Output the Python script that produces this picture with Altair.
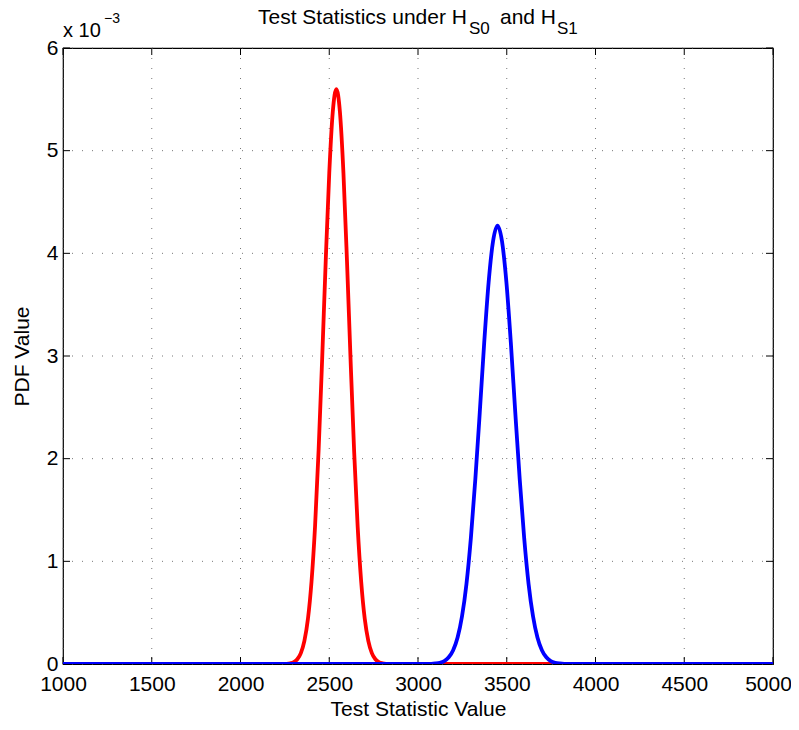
import altair as alt
import pandas as pd

# ---- data (y in units of 1e-3) ----
red_x = [1000, 2200, 2260, 2280, 2300, 2320, 2340, 2360, 2380, 2400, 2420, 2440, 2460, 2480,
         2500, 2520, 2540, 2560, 2580, 2600, 2620, 2640, 2660, 2680, 2700, 2720, 2740,
         2760, 2780, 2800, 2820, 2900, 5000]
red_y = [0.0, 0.0, 0.002, 0.007, 0.018, 0.046, 0.106, 0.225, 0.44, 0.80, 1.34, 2.08, 2.97, 3.92,
         4.78, 5.38, 5.60, 5.38, 4.78, 3.92, 2.97, 2.08, 1.34, 0.80, 0.44, 0.225, 0.106,
         0.046, 0.018, 0.007, 0.002, 0.0, 0.0]

blue_x = [1000, 3050, 3098, 3123, 3148, 3173, 3198, 3223, 3248, 3273, 3298, 3323, 3348, 3373,
          3398, 3423, 3448, 3473, 3498, 3523, 3548, 3573, 3598, 3623, 3648, 3673, 3698,
          3723, 3748, 3773, 3798, 3850, 5000]
blue_y = [0.0, 0.0, 0.005, 0.012, 0.029, 0.065, 0.134, 0.258, 0.465, 0.78, 1.23, 1.80, 2.45, 3.13,
          3.72, 4.12, 4.27, 4.12, 3.72, 3.13, 2.45, 1.80, 1.23, 0.78, 0.465, 0.258, 0.134,
          0.065, 0.029, 0.012, 0.005, 0.0, 0.0]

x_ticks = [1000, 1500, 2000, 2500, 3000, 3500, 4000, 4500, 5000]
y_ticks = [0, 1, 2, 3, 4, 5, 6]

W, H = 710, 616
FONT = "Liberation Sans"

red_df = pd.DataFrame({"x": red_x, "y": red_y})
blue_df = pd.DataFrame({"x": blue_x, "y": blue_y})
xt_df = pd.DataFrame({"x": x_ticks})
yt_df = pd.DataFrame({"y": y_ticks})

xs = alt.Scale(domain=[1000, 5000], nice=False, zero=False)
ys = alt.Scale(domain=[0, 6], nice=False)

x_axis = alt.Axis(values=x_ticks, format="d", title="Test Statistic Value", grid=False,
                  domain=False, ticks=False, labelPadding=9, titlePadding=4,
                  labelFontSize=21, titleFontSize=21, labelFont=FONT, titleFont=FONT,
                  labelColor="#000", titleColor="#000", titleFontWeight="normal",
                  labelFlush=False, labelOverlap=False,
                  labelOffset={"condition": {"test": "datum.value == 5000", "value": -5},
                               "value": 0})
y_axis = alt.Axis(values=y_ticks, format="d", title="PDF Value", grid=False, domain=False,
                  ticks=False, labelPadding=5, titlePadding=14,
                  labelFontSize=21, titleFontSize=21, labelFont=FONT, titleFont=FONT,
                  labelColor="#000", titleColor="#000", titleFontWeight="normal",
                  labelFlush=False, labelOverlap=False)

X = alt.X("x:Q", scale=xs, axis=x_axis)
Y = alt.Y("y:Q", scale=ys, axis=y_axis)

grid_style = dict(color="#777777", strokeDash=[1, 9], strokeWidth=1)

vgrid = alt.Chart(xt_df).mark_rule(**grid_style).encode(x=X)
hgrid = alt.Chart(yt_df).mark_rule(**grid_style).encode(y=Y)

tick_style = dict(color="#000", strokeWidth=1)
xt_bot = alt.Chart(xt_df).mark_rule(**tick_style).encode(
    x=X, y=alt.value(H), y2=alt.value(H - 7))
xt_top = alt.Chart(xt_df).mark_rule(**tick_style).encode(
    x=X, y=alt.value(0), y2=alt.value(7))
yt_left = alt.Chart(yt_df).mark_rule(**tick_style).encode(
    y=Y, x=alt.value(0), x2=alt.value(7))
yt_right = alt.Chart(yt_df).mark_rule(**tick_style).encode(
    y=Y, x=alt.value(W), x2=alt.value(W - 7))

red_line = alt.Chart(red_df).mark_line(color="#ff0000", strokeWidth=3.8, clip=True,
                                       interpolate="monotone").encode(x=X, y=Y)
blue_line = alt.Chart(blue_df).mark_line(color="#0000ff", strokeWidth=3.8, clip=True,
                                         interpolate="monotone").encode(x=X, y=Y)

one = pd.DataFrame({"a": [0]})


def txt(s, x, y, size, align="left"):
    return alt.Chart(one).mark_text(text=s, align=align, baseline="alphabetic",
                                    font=FONT, fontSize=size, color="#000").encode(
        x=alt.value(x), y=alt.value(y))


texts = [
    txt("Test Statistics under H", 195, -24, 21),
    txt("S0", 406, -14, 17),
    txt("and H", 437, -24, 21),
    txt("S1", 494, -14, 17),
    txt("x 10", 0, -11, 20),
    txt("\u22123", 41, -25, 14),
]

chart = alt.layer(vgrid, hgrid, xt_bot, xt_top, yt_left, yt_right,
                  red_line, blue_line, *texts).properties(
    width=W, height=H,
    autosize=alt.AutoSizeParams(type="none"),
    padding={"left": 55, "top": 40, "right": 18, "bottom": 54},
    background="white",
).configure_view(stroke="#000", strokeWidth=1.2)

chart.save("out.html", embed_options={"renderer": "svg", "actions": False})
